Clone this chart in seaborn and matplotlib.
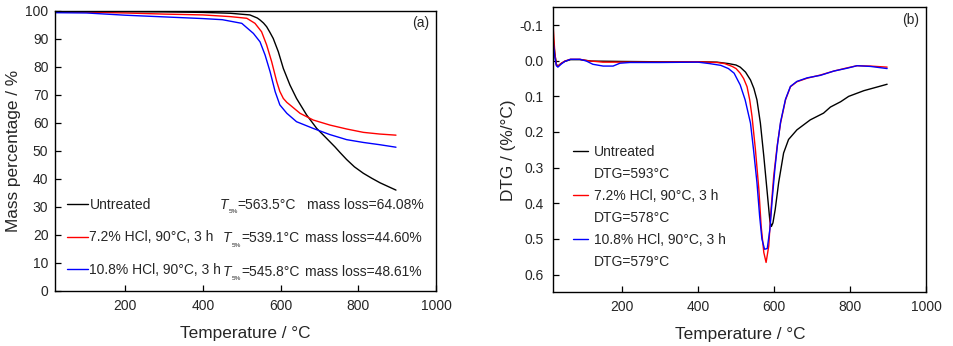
import numpy as np
import pandas as pd
import matplotlib
matplotlib.use("Agg")
import matplotlib.pyplot as plt
from matplotlib.lines import Line2D
import seaborn as sns

# ---------------- data ----------------
# (a) TGA mass percentage
tga_T_untreated = [20, 100, 200, 300, 400, 470, 521, 540, 547, 556, 564, 572, 581, 594, 607, 624,
                   641, 667, 693, 718, 740, 753, 770, 790, 813, 835, 856, 878, 897]
tga_m_untreated = [99.9, 99.8, 99.7, 99.6, 99.4, 99.1, 98.5, 97.4, 96.7, 95.6, 94.3, 92.4, 90.1, 85.4,
                   79.4, 73.5, 68.7, 62.8, 58.0, 54.5, 51.4, 49.4, 46.9, 44.3, 42.0, 40.2, 38.6, 37.2, 36.0]

tga_T_hcl72 = [20, 100, 200, 300, 400, 470, 513, 534, 551, 564, 577, 590, 598, 607, 616, 624,
               650, 684, 727, 770, 813, 855, 897]
tga_m_hcl72 = [99.6, 99.5, 99.2, 98.8, 98.5, 97.9, 97.3, 95.5, 92.5, 87.8, 81.8, 74.7, 71.2, 68.7,
               67.3, 66.4, 63.4, 61.0, 59.2, 57.8, 56.6, 56.0, 55.6]

tga_T_hcl108 = [20, 100, 200, 300, 400, 450, 500, 530, 547, 560, 573, 586, 598, 616, 641, 684,
                727, 770, 813, 855, 897]
tga_m_hcl108 = [99.3, 99.2, 98.4, 97.8, 97.2, 96.8, 95.5, 91.9, 88.9, 84.2, 78.2, 71.1, 66.4, 63.4,
                60.4, 58.0, 55.8, 54.0, 53.0, 52.2, 51.3]

# (b) DTG
dtg_T_untreated = [20, 24, 28, 32, 40, 50, 65, 90, 120, 200, 300, 400, 450, 480, 500, 511, 525, 538,
                   547, 555, 564, 573, 582, 589, 593, 597, 603, 612, 625, 638, 660, 695, 730, 748,
                   775, 796, 836, 870, 897]
dtg_v_untreated = [-0.06, -0.02, 0.010, 0.015, 0.008, 0.002, -0.003, -0.003, 0.001, 0.002, 0.003,
                   0.003, 0.004, 0.008, 0.012, 0.018, 0.032, 0.054, 0.078, 0.110, 0.175, 0.268,
                   0.370, 0.450, 0.465, 0.455, 0.417, 0.342, 0.259, 0.221, 0.194, 0.166, 0.147,
                   0.130, 0.115, 0.100, 0.084, 0.074, 0.066]

dtg_T_hcl72 = [20, 24, 28, 32, 40, 50, 65, 90, 110, 150, 200, 300, 400, 450, 470, 490, 500, 511,
               520, 529, 536, 542, 551, 560, 566, 573, 579, 586, 592, 599, 608, 617, 630, 643, 660,
               687, 722, 757, 792, 818, 853, 897]
dtg_v_hcl72 = [-0.09, -0.02, 0.012, 0.016, 0.008, 0.001, -0.004, -0.004, 0.0, 0.004, 0.004, 0.004,
               0.003, 0.005, 0.008, 0.016, 0.022, 0.035, 0.050, 0.073, 0.110, 0.156, 0.250, 0.361,
               0.464, 0.538, 0.566, 0.520, 0.417, 0.324, 0.240, 0.175, 0.110, 0.073, 0.059, 0.049,
               0.040, 0.029, 0.020, 0.014, 0.015, 0.018]

dtg_T_hcl108 = [20, 24, 28, 32, 40, 50, 65, 90, 107, 124, 151, 177, 195, 221, 300, 400, 430, 460,
                480, 495, 511, 524, 538, 546, 555, 562, 568, 575, 582, 589, 595, 602, 609, 617, 630,
                643, 660, 687, 722, 757, 792, 818, 853, 897]
dtg_v_hcl108 = [-0.05, -0.01, 0.014, 0.018, 0.010, 0.002, -0.004, -0.004, 0.001, 0.010, 0.015,
                0.015, 0.007, 0.005, 0.005, 0.004, 0.008, 0.013, 0.022, 0.035, 0.068, 0.110, 0.175,
                0.250, 0.342, 0.436, 0.500, 0.529, 0.527, 0.473, 0.390, 0.305, 0.235, 0.172, 0.108,
                0.072, 0.058, 0.048, 0.041, 0.029, 0.021, 0.014, 0.016, 0.022]

series_labels = ["Untreated", "7.2% HCl, 90°C, 3 h", "10.8% HCl, 90°C, 3 h"]
t5_labels = ["563.5", "539.1", "545.8"]
massloss_labels = ["64.08%", "44.60%", "48.61%"]
dtg_peak_labels = ["DTG=593°C", "DTG=578°C", "DTG=579°C"]
colors = ["black", "#ff0000", "#0000ff"]

# ---------------- style ----------------
sns.set_style("ticks")
plt.rcParams["font.family"] = ["Liberation Sans", "DejaVu Sans"]
plt.rcParams["axes.unicode_minus"] = False
plt.rcParams["xtick.direction"] = "in"
plt.rcParams["ytick.direction"] = "in"

fig = plt.figure(figsize=(9.54, 3.46), dpi=100)
ax1 = fig.add_axes([0.058, 0.159, 0.399, 0.810])
ax2 = fig.add_axes([0.580, 0.155, 0.391, 0.824])

tga = [(tga_T_untreated, tga_m_untreated), (tga_T_hcl72, tga_m_hcl72), (tga_T_hcl108, tga_m_hcl108)]
dtg = [(dtg_T_untreated, dtg_v_untreated), (dtg_T_hcl72, dtg_v_hcl72), (dtg_T_hcl108, dtg_v_hcl108)]

for (tx, ty), c in zip(tga, colors):
    sns.lineplot(x=tx, y=ty, color=c, lw=1.0, ax=ax1, sort=False, estimator=None, legend=False)
for (tx, ty), c in zip(dtg, colors):
    sns.lineplot(x=tx, y=ty, color=c, lw=1.0, ax=ax2, sort=False, estimator=None, legend=False)

for ax in (ax1, ax2):
    ax.set_xlim(20, 1000)
    ax.set_xticks([200, 400, 600, 800, 1000])
    for s in ax.spines.values():
        s.set_visible(True)
        s.set_linewidth(1.0)
        s.set_color("black")
    ax.tick_params(axis="both", which="major", length=4.5, width=0.9, labelsize=10,
                   top=False, right=False, color="black")
    ax.tick_params(axis="x", pad=5.5)
    ax.set_xlabel("Temperature / °C", fontsize=12.4, labelpad=9.5)

ax1.tick_params(axis="y", pad=5)
ax2.tick_params(axis="y", pad=7)

ax1.set_ylim(0, 100)
ax1.set_yticks(range(0, 101, 10))
ax1.set_ylabel("Mass percentage / %", fontsize=12.4, labelpad=3)

ax2.set_ylim(0.65, -0.15)
ax2.set_yticks([-0.1, 0.0, 0.1, 0.2, 0.3, 0.4, 0.5, 0.6])
ax2.set_yticklabels(["-0.1", "0.0", "0.1", "0.2", "0.3", "0.4", "0.5", "0.6"])
ax2.set_ylabel("DTG / (%/°C)", fontsize=12.4, labelpad=3)

ax1.text(0.96, 0.957, "(a)", transform=ax1.transAxes, ha="center", va="center", fontsize=10)
ax2.text(0.959, 0.955, "(b)", transform=ax2.transAxes, ha="center", va="center", fontsize=10)

# legend (a)
handles_a = [Line2D([], [], color=c, lw=1.0) for c in colors]
ax1.legend(handles_a, series_labels, loc="center left", bbox_to_anchor=(0.030, 0.191),
           frameon=False, fontsize=10, handlelength=1.55, handletextpad=0.08,
           labelspacing=1.35, borderpad=0, borderaxespad=0)
row_base = [0.2925, 0.1737, 0.0535]
t_x = [0.431, 0.441, 0.441]
ml_x = [0.660, 0.657, 0.657]
for yb, tx, mx, t5, ml in zip(row_base, t_x, ml_x, t5_labels, massloss_labels):
    kw = dict(xycoords="axes fraction", textcoords="offset points", ha="left", va="baseline")
    ax1.annotate("T", (tx, yb), xytext=(0, 0), fontsize=10, fontstyle="italic", **kw)
    ax1.annotate("5%", (tx, yb), xytext=(6.4, -3.2), fontsize=4.6, **kw)
    ax1.annotate("=" + t5 + "°C", (tx, yb), xytext=(13.2, 0), fontsize=10, **kw)
    ax1.annotate("mass loss=" + ml, (mx, yb), xytext=(0, 0), fontsize=10, **kw)

# legend (b)
handles_b = []
labels_b = []
for c, lab, pk in zip(colors, series_labels, dtg_peak_labels):
    handles_b.append(Line2D([], [], color=c, lw=1.0))
    labels_b.append(lab)
    handles_b.append(Line2D([], [], color="none", lw=0))
    labels_b.append(pk)
ax2.legend(handles_b, labels_b, loc="center left", bbox_to_anchor=(0.053, 0.299),
           frameon=False, fontsize=10, handlelength=1.08, handletextpad=0.43,
           labelspacing=0.57, borderpad=0, borderaxespad=0)

fig.savefig("out.png", dpi=100)
